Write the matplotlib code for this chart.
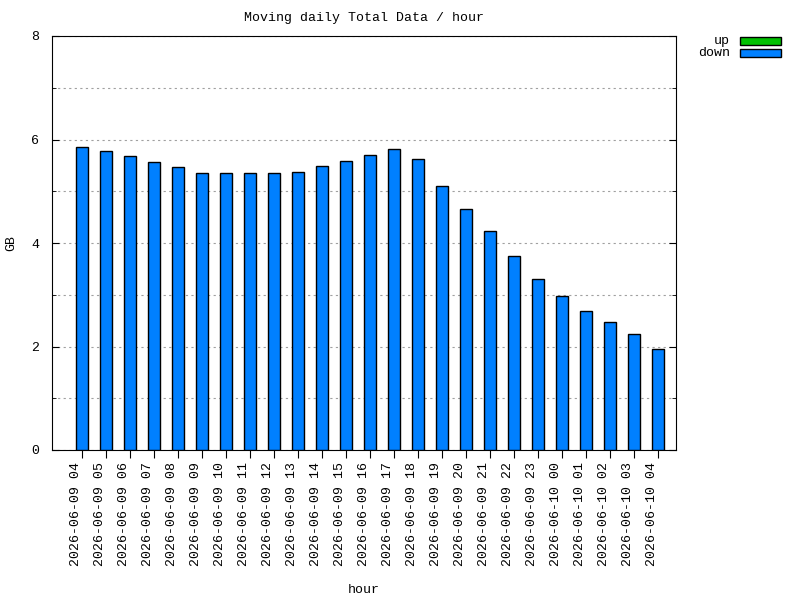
import matplotlib
matplotlib.use('Agg')
import matplotlib.pyplot as plt
import matplotlib.transforms as mtransforms
from matplotlib.patches import Rectangle
import numpy as np

hours = ['2026-06-09 04', '2026-06-09 05', '2026-06-09 06', '2026-06-09 07',
         '2026-06-09 08', '2026-06-09 09', '2026-06-09 10', '2026-06-09 11',
         '2026-06-09 12', '2026-06-09 13', '2026-06-09 14', '2026-06-09 15',
         '2026-06-09 16', '2026-06-09 17', '2026-06-09 18', '2026-06-09 19',
         '2026-06-09 20', '2026-06-09 21', '2026-06-09 22', '2026-06-09 23',
         '2026-06-10 00', '2026-06-10 01', '2026-06-10 02', '2026-06-10 03',
         '2026-06-10 04']
up = [0] * 25
down = [5.86, 5.78, 5.68, 5.57, 5.47, 5.35, 5.35, 5.35, 5.35, 5.37, 5.49, 5.59,
        5.70, 5.82, 5.62, 5.10, 4.65, 4.23, 3.74, 3.30, 2.98, 2.68, 2.47, 2.25,
        1.96]
series = [('up', up, '#00c000'), ('down', down, '#0080ff')]

plt.rcParams['font.family'] = ['Liberation Mono', 'DejaVu Sans Mono']
plt.rcParams['font.size'] = 9.5

fig = plt.figure(figsize=(8, 6), dpi=100)
ax = fig.add_axes([52 / 800, 150 / 600, 624 / 800, 414 / 600])

x = np.arange(len(hours))
ax.bar(x, up, width=0.5, color='#00c000', edgecolor='black', linewidth=1)
ax.bar(x, down, width=0.5, bottom=up, color='#0080ff', edgecolor='black',
       linewidth=1, zorder=3)

ax.set_xlim(-1.25, len(hours) - 0.25)
ax.set_ylim(0, 8)
ax.set_xticks(x)
ax.set_xticklabels(hours, rotation=90)
ax.set_yticks([0, 2, 4, 6, 8])
ax.set_yticks([1, 3, 5, 7], minor=True)
ax.tick_params(axis='y', which='both', direction='in', left=True, right=True, pad=9)
ax.tick_params(axis='y', which='major', length=5)
ax.tick_params(axis='y', which='minor', length=3)
ax.tick_params(axis='x', direction='out', length=6, top=False, pad=3)
ax.grid(True, axis='y', which='both', linestyle=(0, (2, 3)), color='#a0a0a0',
        linewidth=0.8, zorder=0)
ax.set_axisbelow(True)

# gnuplot puts rotated labels a little left of the tick
shift = mtransforms.ScaledTranslation(-6 / 100, 0, fig.dpi_scale_trans)
for lbl in ax.get_xticklabels():
    lbl.set_transform(lbl.get_transform() + shift)

ax.set_title('Moving daily Total Data / hour', fontsize=9.5, pad=11)
ax.set_xlabel('hour')
ax.set_ylabel('GB')
ax.xaxis.set_label_coords(0.5, -140 / 414)
ax.yaxis.set_label_coords(-41 / 624, 0.5)
ax.xaxis.label.set_va('center')
ax.yaxis.label.set_va('center')

# key in the top right corner, outside the plot
for i, (name, vals, col) in enumerate(series):
    yc = 1 - (41 + 12 * i) / 600
    fig.text(730 / 800, yc, name, ha='right', va='center')
    fig.add_artist(Rectangle((740 / 800, yc - 3.5 / 600), 41 / 800, 7 / 600,
                             facecolor=col, edgecolor='black', linewidth=1,
                             transform=fig.transFigure))

fig.savefig('out.png', dpi=100)
